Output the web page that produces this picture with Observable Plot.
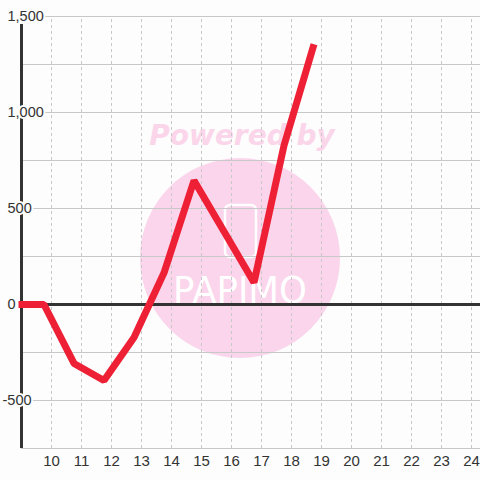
<!DOCTYPE html>
<html>
<head>
<meta charset="utf-8">
<script src="https://cdn.jsdelivr.net/npm/d3@7"></script>
<script src="https://cdn.jsdelivr.net/npm/@observablehq/plot@0.6"></script>
<style>
  html, body { margin: 0; padding: 0; background: #fcfdfc; }
  #wrap { position: relative; width: 480px; height: 480px; background: #fcfdfc; overflow: hidden; }
  #wm { position: absolute; left: 0; top: 0; }
  #chart { position: absolute; left: 0; top: 0; }
  #chart svg { background: transparent; }
</style>
</head>
<body>
<div id="wrap">
  <svg id="wm" width="480" height="480">
    <text x="242" y="145" text-anchor="middle" font-family="DejaVu Sans" font-weight="bold" font-style="italic" font-size="28" fill="#fbd5ea">Powered by</text>
    <circle cx="240" cy="258" r="100" fill="#fad5eb"></circle>
    <rect x="225" y="205" width="31" height="52" rx="5" fill="none" stroke="#ffffff" stroke-width="2.5"></rect>
    <text x="240" y="303" text-anchor="middle" font-family="DejaVu Sans" font-size="38" fill="#ffffff" textLength="134" lengthAdjust="spacingAndGlyphs">PAPIMO</text>
  </svg>
  <div id="chart"></div>
</div>
<script>
// Data
const xs = [8.9, 9.75, 10.75, 11.75, 12.75, 13.75, 14.75, 15.75, 16.75, 17.75, 18.75];
const ys = [0, 0, -307, -396, -172, 165, 646, 380, 115, 828, 1355];
const xTicks = [10, 11, 12, 13, 14, 15, 16, 17, 18, 19, 20, 21, 22, 23, 24];
const yGrid = [-750, -500, -250, 250, 500, 750, 1000, 1250, 1500];
const yLabels = [-500, 0, 500, 1000, 1500];

const data = xs.map((x, i) => ({x, y: ys[i]}));
const fmt = d3.formatLocale({decimal: ".", thousands: ",", grouping: [3], currency: ["$", ""], minus: "-"}).format(",");
const ink = "#333333";
const bg = "#fcfdfc";

const chart = Plot.plot({
  width: 480,
  height: 480,
  marginLeft: 21,
  marginRight: 0,
  marginTop: 16,
  marginBottom: 32,
  style: {background: "transparent", fontFamily: "Liberation Sans, Arial, sans-serif"},
  x: {domain: [9, 24.3], axis: null},
  y: {domain: [-750, 1500], axis: null},
  marks: [
    Plot.ruleX(xTicks, {y1: -750, y2: 1500, stroke: "#c8c8c8", strokeDasharray: "3,3", strokeWidth: 1}),
    Plot.ruleY(yGrid, {stroke: "#c8c8c8", strokeWidth: 1}),
    Plot.ruleX([9], {y1: -750, y2: 1458, stroke: ink, strokeWidth: 3}),
    Plot.text(yLabels.filter(v => v >= 0), {x: () => 9, y: d => d, text: d => fmt(d), textAnchor: "start", dx: -14, fontSize: 14.5, fill: ink, stroke: bg, strokeWidth: 4}),
    Plot.text(yLabels.filter(v => v < 0), {x: () => 9, y: d => d, text: d => fmt(d), textAnchor: "start", dx: -19, fontSize: 14.5, fill: ink, stroke: bg, strokeWidth: 4}),
    Plot.ruleY([0], {x1: 9, x2: 24.3, stroke: ink, strokeWidth: 3}),
    Plot.line(data, {x: "x", y: "y", stroke: "#ee2036", strokeWidth: 7, strokeLinejoin: "miter", strokeLinecap: "butt"}),
    Plot.text(xTicks, {x: d => d, y: () => -750, text: d => String(d), dy: 13, fontSize: 15, fill: ink})
  ]
});
document.getElementById("chart").appendChild(chart);
</script>
</body>
</html>
